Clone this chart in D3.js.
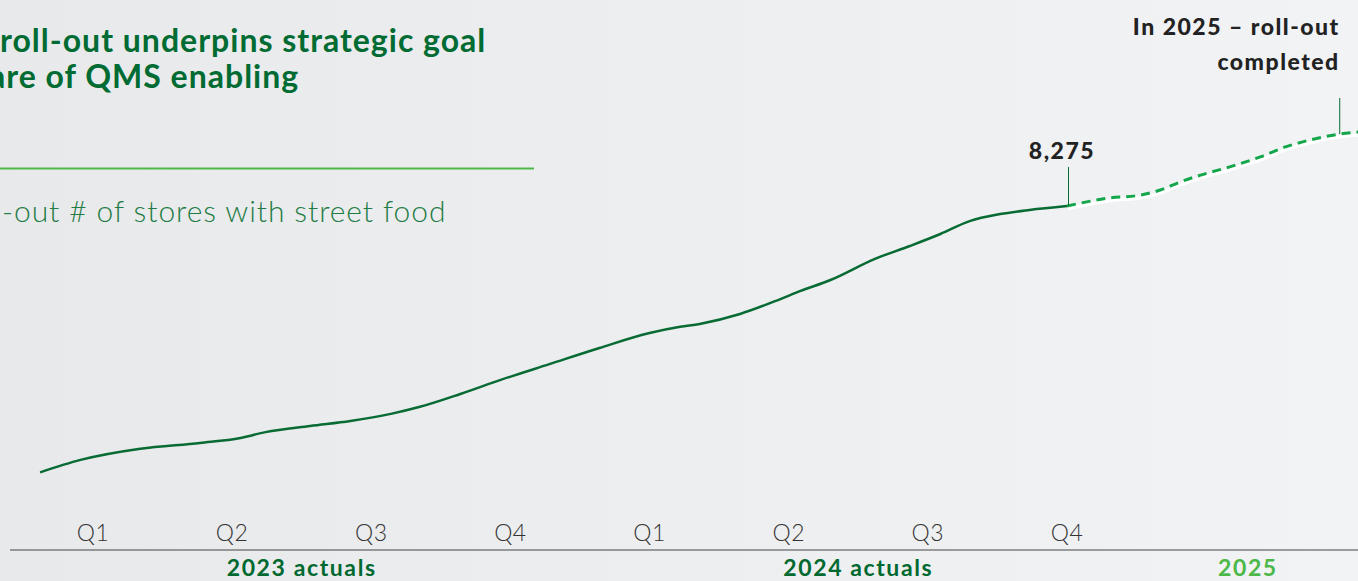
<!DOCTYPE html>
<meta charset="utf-8">
<style>
body { margin: 0; overflow: hidden; }
svg { display: block; font-family: Lato, "Noto Sans", sans-serif; }
.title { fill: #006b32; font-size: 32px; font-weight: 700; letter-spacing: 1px; }
.subtitle { fill: #1f7c45; font-size: 30px; font-weight: 300; letter-spacing: 0.9px; }
.quarter { fill: #333; font-size: 23px; font-weight: 300; text-anchor: middle; letter-spacing: 0.5px; }
.year { fill: #00692f; font-size: 23px; font-weight: 700; text-anchor: middle; letter-spacing: 1.6px; }
.year.plan { fill: #4cb848; }
.note { fill: #222; font-size: 23px; font-weight: 900; letter-spacing: 1.5px; }
</style>
<svg width="1358" height="581"></svg>
<script src="https://d3js.org/d3.v7.min.js"></script>
<script>

// time axis in quarters counted from Q1 2023 (0 = Q1 2023)
var quarters = ["Q1", "Q2", "Q3", "Q4", "Q1", "Q2", "Q3", "Q4"];
var years = ["2023 actuals", "2024 actuals", "2025"];
var yearCenter = [1.5, 5.5, 8.3];

// stores with street food, actuals
var actualT = [-0.38, -0.09, 0.34, 0.77, 1.06, 1.24, 1.56, 1.85, 2.14, 2.35, 2.64, 2.93,
               3.28, 3.64, 4.0, 4.22, 4.36, 4.65, 4.94, 5.08, 5.3, 5.62, 5.87, 6.09,
               6.3, 6.52, 6.73, 7.0];
var actualV = [1850, 2150, 2420, 2560, 2680, 2820, 2970, 3090, 3260, 3430, 3740, 4080,
               4460, 4850, 5210, 5360, 5430, 5670, 6030, 6220, 6490, 7000, 7310, 7600,
               7910, 8080, 8180, 8275];

// planned roll-out 2025
var planT = [7.0, 7.31, 7.53, 7.67, 7.81, 7.96, 8.17, 8.39, 8.57, 8.75, 8.96, 9.1];
var planV = [8275, 8470, 8540, 8660, 8850, 9020, 9220, 9460, 9700, 9870, 10010, 10060];

var lastActual = 8275;
var target = 10010;

var svg = d3.select("svg"),
    width = +svg.attr("width"),
    height = +svg.attr("height");

var defs = svg.append("defs");
var grad = defs.append("linearGradient").attr("id", "bg");
grad.append("stop").attr("offset", "0%").attr("stop-color", "#e8e9eb");
grad.append("stop").attr("offset", "100%").attr("stop-color", "#f2f3f5");
svg.append("rect").attr("width", width).attr("height", height).attr("fill", "url(#bg)");

var x = d3.scaleLinear().domain([0, 7]).range([93, 1067]);
var y = d3.scaleLinear().domain([0, 10000]).range([549, 134.5]);

// heading (cut at the left edge in the source)
svg.append("text").attr("class", "title").attr("x", 0).attr("y", 52)
    .text("roll-out underpins strategic goal");
svg.append("text").attr("class", "title").attr("x", -11).attr("y", 88)
    .text("are of QMS enabling");
svg.append("line")
    .attr("x1", 0).attr("x2", 534).attr("y1", 168.5).attr("y2", 168.5)
    .attr("stroke", "#4cb848").attr("stroke-width", 2);
svg.append("text").attr("class", "subtitle").attr("x", 2).attr("y", 222)
    .text("-out # of stores with street food");

var line = d3.line()
    .x(function(d) { return x(d[0]); })
    .y(function(d) { return y(d[1]); })
    .curve(d3.curveMonotoneX);

var actual = d3.zip(actualT, actualV),
    plan = d3.zip(planT, planV);

// soft white shadow under the forecast
svg.append("path")
    .attr("d", line(plan))
    .attr("transform", "translate(1,2.5)")
    .attr("fill", "none")
    .attr("stroke", "#fff")
    .attr("stroke-width", 3.5);

svg.append("path")
    .attr("d", line(plan))
    .attr("fill", "none")
    .attr("stroke", "#13a64a")
    .attr("stroke-width", 3)
    .attr("stroke-dasharray", "9,6");

svg.append("path")
    .attr("d", line(actual))
    .attr("fill", "none")
    .attr("stroke", "#076b33")
    .attr("stroke-width", 2.5);

// annotations
svg.append("line")
    .attr("x1", x(7) + 1.5).attr("x2", x(7) + 1.5)
    .attr("y1", 167).attr("y2", y(lastActual))
    .attr("stroke", "#0b6b33").attr("stroke-width", 1);
svg.append("text").attr("class", "note")
    .attr("x", x(7) - 5).attr("y", 159).attr("text-anchor", "middle")
    .text(d3.format(",")(lastActual));

var tx = x(8.96);
svg.append("line")
    .attr("x1", tx).attr("x2", tx)
    .attr("y1", 98).attr("y2", y(target))
    .attr("stroke", "#0b6b33").attr("stroke-width", 1);
svg.append("text").attr("class", "note")
    .attr("x", tx).attr("y", 35).attr("text-anchor", "end")
    .text("In 2025 \u2013 roll-out");
svg.append("text").attr("class", "note")
    .attr("x", tx).attr("y", 70).attr("text-anchor", "end")
    .text("completed");

// x axis
svg.append("line")
    .attr("x1", 10).attr("x2", width).attr("y1", 550).attr("y2", 550)
    .attr("stroke", "#444").attr("stroke-width", 1);

svg.selectAll(".quarter")
    .data(quarters)
    .enter().append("text")
    .attr("class", "quarter")
    .attr("x", function(d, i) { return x(i); })
    .attr("y", 541)
    .text(function(d) { return d; });

svg.selectAll(".year")
    .data(years)
    .enter().append("text")
    .attr("class", function(d, i) { return i === 2 ? "year plan" : "year"; })
    .attr("x", function(d, i) { return x(yearCenter[i]); })
    .attr("y", 576)
    .text(function(d) { return d; });

</script>
